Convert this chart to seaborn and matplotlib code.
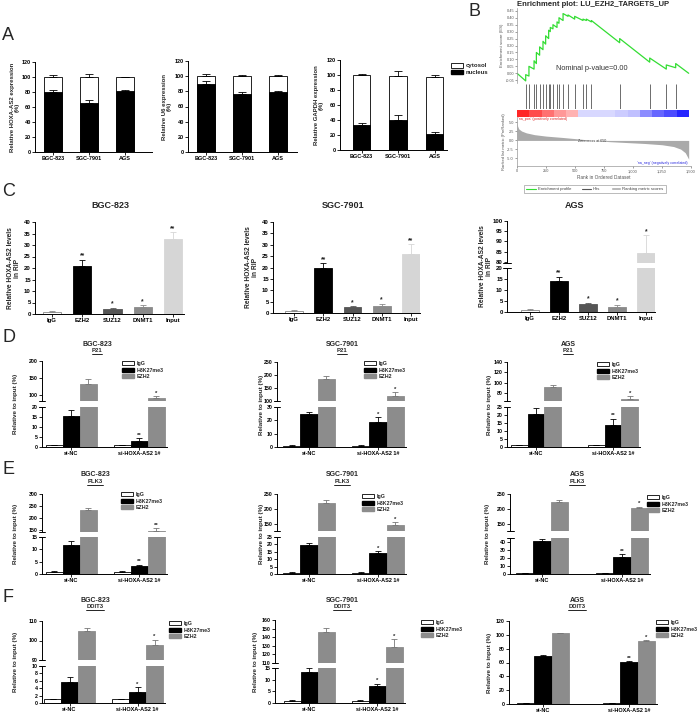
import numpy as np
import pandas as pd
import matplotlib
matplotlib.use("Agg")
import matplotlib.pyplot as plt
import seaborn as sns
from matplotlib.patches import Patch
from matplotlib.lines import Line2D

# ---------------- data ----------------
cell_lines = ["BGC-823", "SGC-7901", "AGS"]
hoxa_nucleus = [80, 65.5, 81.5]
hoxa_nucleus_err = [3, 3.5, 0.8]
hoxa_total = [100, 100, 100]
hoxa_total_err = [3, 3.5, 0.6]
u6_nucleus = [90, 76, 78.5]
u6_nucleus_err = [3, 2.5, 2]
u6_total = [100, 100, 100]
u6_total_err = [3, 2, 2]
gapdh_nucleus = [34, 40, 22]
gapdh_nucleus_err = [2, 7, 2.5]
gapdh_total = [99.5, 98.5, 97.5]
gapdh_total_err = [1.5, 7, 2]

es_rank = [0, 75, 75, 103, 103, 147, 147, 167, 167, 195, 195, 224, 224, 247, 247,
           273, 273, 287, 287, 310, 310, 345, 345, 362, 362, 397, 397, 440, 440,
           497, 497, 569, 569, 598, 598, 641, 641, 885, 885, 1144, 1144, 1287, 1287,
           1368, 1368, 1480]
es_score = [0.0, -0.055, -0.01, -0.02, 0.05, 0.03, 0.09, 0.07, 0.15, 0.13, 0.19,
            0.17, 0.23, 0.21, 0.27, 0.25, 0.31, 0.30, 0.33, 0.32, 0.35, 0.33, 0.37,
            0.36, 0.40, 0.38, 0.43, 0.41, 0.42, 0.39, 0.41, 0.38, 0.39, 0.38, 0.39,
            0.37, 0.38, 0.22, 0.25, 0.08, 0.11, 0.03, 0.06, 0.04, 0.07, 0.0]
hit_ranks = [75, 103, 147, 167, 195, 224, 247, 273, 287, 310, 345, 362, 397, 440,
             497, 569, 598, 641, 885, 1144, 1287, 1368]
metric_rank = [0, 5, 15, 40, 80, 150, 250, 400, 550, 650, 800, 950, 1100, 1250,
               1350, 1410, 1450, 1480]
metric_value = [5.3, 4.0, 3.2, 2.6, 2.1, 1.6, 1.2, 0.8, 0.35, 0.0, -0.35, -0.6,
                -0.85, -1.2, -1.7, -2.4, -3.4, -5.2]
rank_bar_levels = [0.85, 0.7, 0.55, 0.4, 0.3, -0.15, -0.15, -0.15, -0.2, -0.25,
                   -0.45, -0.6, -0.7, -0.85]
gsea_ticks = [0, 250, 500, 750, 1000, 1250, 1500]
gsea_tick_labels = ["0", "250", "500", "750", "1,000", "1,250", "1,500"]
es_ticks = [-0.05, 0.0, 0.05, 0.10, 0.15, 0.20, 0.25, 0.30, 0.35, 0.40, 0.45]
metric_ticks = [-5.0, -2.5, 0.0, 2.5, 5.0]

rip_targets = ["IgG", "EZH2", "SUZ12", "DNMT1", "Input"]
rip_bgc = [1, 21, 2.2, 3.0, 32.5]
rip_bgc_err = [0.2, 2.5, 0.6, 0.7, 3.0]
rip_bgc_sig = ["", "**", "*", "*", "**"]
rip_sgc = [1, 20, 2.5, 3.2, 26]
rip_sgc_err = [0.2, 1.8, 0.5, 0.9, 4.2]
rip_sgc_sig = ["", "**", "*", "*", "**"]
rip_ags = [1, 14, 3.5, 2.5, 84.5]
rip_ags_err = [0.2, 2.0, 0.6, 0.7, 8.5]
rip_ags_sig = ["", "**", "*", "*", "*"]

chip_groups = ["si-NC", "si-HOXA-AS2 1#"]
chip_antibodies = ["IgG", "H3K27me3", "EZH2"]
# order: si-NC (IgG, H3K27me3, EZH2), si-HOXA-AS2 1# (IgG, H3K27me3, EZH2)
p21_bgc = [1, 15.5, 133, 1, 3.2, 90]
p21_bgc_err = [0.2, 3, 13, 0.2, 1.3, 6]
p21_bgc_sig = ["", "", "", "", "**", "*"]
p21_sgc = [1, 24.5, 184, 1, 19, 120]
p21_sgc_err = [0.2, 2, 11, 0.2, 3.5, 14]
p21_sgc_sig = ["", "", "", "", "*", "*"]
p21_ags = [1, 20.6, 92, 1, 13.8, 69]
p21_ags_err = [0.2, 3.8, 3, 0.2, 4, 5.5]
p21_ags_sig = ["", "", "", "", "**", "*"]
plk3_bgc = [1, 11.8, 231, 1, 3.2, 146]
plk3_bgc_err = [0.1, 1.5, 10, 0.1, 0.6, 12]
plk3_bgc_sig = ["", "", "", "", "**", "**"]
plk3_sgc = [1, 19.4, 221, 1, 14.4, 147]
plk3_sgc_err = [0.1, 1.6, 9, 0.1, 1.3, 9]
plk3_sgc_sig = ["", "", "", "", "*", "*"]
plk3_ags = [1, 41, 222, 1, 21.7, 202]
plk3_ags_err = [0.2, 3, 8, 0.2, 2.9, 6]
plk3_ags_sig = ["", "", "", "", "**", "*"]
ddit3_bgc = [1, 5.6, 104.8, 1, 3.1, 97.5]
ddit3_bgc_err = [0.1, 1.4, 1.5, 0.1, 1.1, 3]
ddit3_bgc_sig = ["", "", "", "", "*", "*"]
ddit3_sgc = [1, 13.2, 146.5, 1, 7.5, 129]
ddit3_sgc_err = [0.1, 1.7, 4.5, 0.1, 0.8, 9]
ddit3_sgc_sig = ["", "", "", "", "*", "*"]
ddit3_ags = [1, 70, 102, 1, 60.5, 91]
ddit3_ags_err = [0.3, 1, 1, 0.3, 1, 1.5]
ddit3_ags_sig = ["", "", "", "", "**", "*"]

# ---------------- style ----------------
sns.set_theme(style="ticks")
plt.rcParams["font.family"] = ["Liberation Sans", "DejaVu Sans"]
plt.rcParams["font.weight"] = "bold"
plt.rcParams["axes.linewidth"] = 0.7
plt.rcParams["xtick.major.width"] = 0.6
plt.rcParams["ytick.major.width"] = 0.6

W, H = 700, 714
fig = plt.figure(figsize=(W / 100, H / 100), dpi=100)


def add_ax(x0, y0, x1, y1):
    return fig.add_axes([x0 / W, 1 - y1 / H, (x1 - x0) / W, (y1 - y0) / H])


def fy(y):
    return 1 - y / H


def style(ax, show_x=True, tick_fs=3.8):
    sns.despine(ax=ax, top=True, right=True, bottom=not show_x)
    ax.tick_params(axis="both", labelsize=tick_fs, length=2, width=0.6, pad=1,
                   colors="black")
    if not show_x:
        ax.set_xticks([])
    ax.set_xlabel("")
    ax.set_ylabel("")
    for sp in ax.spines.values():
        sp.set_linewidth(0.7)
        sp.set_color("black")


def err_bar(ax, x, v, e, color, cap=2.2):
    if e <= 0:
        return
    ax.errorbar([x], [v], yerr=[[0], [e]], fmt="none", ecolor=color,
                elinewidth=0.6, capsize=cap, capthick=0.6)


def break_mark(ax, y):
    ax.plot([-0.025, 0.025], [y, y], transform=ax.transAxes, color="black",
            lw=0.7, clip_on=False)


underlined = []

# ---------------- panel letters ----------------
for letter, (lx, ly) in {"A": (2, 35), "B": (468, 11), "C": (2, 191),
                         "D": (2, 338), "E": (2, 469), "F": (2, 598)}.items():
    fig.text(lx / W, fy(ly), letter, fontsize=13, fontweight="normal",
             ha="left", va="center")

# ---------------- panel A ----------------
def frac_chart(x0, x1, ytop, ybot, c0, s, nucleus, nucleus_err, total, total_err,
               ylabel, ylab_x):
    ax = add_ax(x0, ytop, x1, ybot)
    df = pd.DataFrame({"cell": cell_lines, "total": total, "nucleus": nucleus})
    sns.barplot(data=df, x="cell", y="total", color="white", edgecolor="black",
                linewidth=0.6, width=0.48, saturation=1, errorbar=None, ax=ax)
    sns.barplot(data=df, x="cell", y="nucleus", color="black", edgecolor="black",
                linewidth=0.6, width=0.48, saturation=1, errorbar=None, ax=ax)
    for cont, vals, errs in zip(ax.containers, [total, nucleus], [total_err, nucleus_err]):
        for b, v, e in zip(cont, vals, errs):
            err_bar(ax, b.get_x() + b.get_width() / 2, v, e, "black", cap=3)
    ax.set_xlim((x0 - c0) / s, (x1 - c0) / s)
    ax.set_ylim(0, 120)
    ax.set_yticks(range(0, 121, 20))
    style(ax, tick_fs=4)
    fig.text(ylab_x / W, fy((ytop + ybot) / 2), ylabel, rotation=90, ha="center",
             va="center", fontsize=4.3, linespacing=1.1)


frac_chart(35, 152, 62, 152, 53, 36, hoxa_nucleus, hoxa_nucleus_err, hoxa_total,
           hoxa_total_err, "Relative HOXA-AS2 expression\n(%)", 15)
frac_chart(188, 297, 61, 152, 206, 36, u6_nucleus, u6_nucleus_err, u6_total,
           u6_total_err, "Relative U6 expression\n(%)", 167)
frac_chart(340, 447, 60, 150, 361.5, 36.5, gapdh_nucleus, gapdh_nucleus_err,
           gapdh_total, gapdh_total_err, "Relative GAPDH expression\n(%)", 319)
fig.legend(handles=[Patch(facecolor="white", edgecolor="black", linewidth=0.6),
                    Patch(facecolor="black", edgecolor="black")],
           labels=["cytosol", "nucleus"], loc="upper left",
           bbox_to_anchor=(451 / W, fy(63)), frameon=False, fontsize=4.3,
           handlelength=2.0, handleheight=0.8, labelspacing=0.25,
           handletextpad=0.5, borderpad=0, borderaxespad=0)

# ---------------- panel B (GSEA) ----------------
GX0, GX1 = 517, 691
fig.text(593 / W, fy(4.5), "Enrichment plot: LU_EZH2_TARGETS_UP", ha="center",
         va="center", fontsize=5.5, fontweight="bold")
ax_es = add_ax(GX0, 8, GX1, 83)
sns.lineplot(x=es_rank, y=es_score, color="#33dd33", linewidth=0.9, sort=False,
             estimator=None, ax=ax_es)
ax_es.set_xlim(0, 1500)
ax_es.set_ylim(-0.07, 0.47)
ax_es.set_yticks(es_ticks)
ax_es.set_yticklabels([f"{t:.2f}" for t in es_ticks])
ax_es.set_xticks([])
for side in ["top", "right", "bottom"]:
    ax_es.spines[side].set_visible(False)
ax_es.spines["left"].set_color("#999999")
ax_es.spines["left"].set_linewidth(0.5)
ax_es.tick_params(axis="y", labelsize=2.8, length=1.2, width=0.4, pad=0.8,
                  colors="#555555")
for t in ax_es.get_yticklabels():
    t.set_fontweight("normal")
ax_es.set_ylabel("Enrichment score (ES)", fontsize=3.2, fontweight="normal",
                 color="#555555", labelpad=1)
ax_es.text(0.43, 0.19, "Nominal p-value=0.00", transform=ax_es.transAxes,
           ha="center", va="center", fontsize=5.3, fontweight="normal",
           color="#333333")

ax_hits = add_ax(GX0, 84, GX1, 109)
ax_hits.vlines(hit_ranks, 0, 1, color="#555555", linewidth=0.6)
ax_hits.set_xlim(0, 1500)
ax_hits.set_ylim(0, 1)
ax_hits.axis("off")

ax_cbar = add_ax(GX0, 110, GX0 + (GX1 - GX0) * 1480 / 1500, 117)
ax_cbar.imshow(np.array([rank_bar_levels]), cmap="bwr", vmin=-1, vmax=1,
               aspect="auto", extent=[0, 1480, 0, 1])
ax_cbar.axis("off")

ax_met = add_ax(GX0, 117, GX1, 166)
ax_met.fill_between(metric_rank, metric_value, 0, color="#aaaaaa", linewidth=0)
ax_met.set_xlim(0, 1500)
ax_met.set_ylim(-7.1, 6.5)
ax_met.set_yticks(metric_ticks)
ax_met.set_yticklabels([f"{t:.1f}" for t in metric_ticks])
ax_met.set_xticks(gsea_ticks)
ax_met.set_xticklabels(gsea_tick_labels)
for side in ["top", "right"]:
    ax_met.spines[side].set_visible(False)
for side in ["left", "bottom"]:
    ax_met.spines[side].set_color("#999999")
    ax_met.spines[side].set_linewidth(0.5)
ax_met.tick_params(axis="both", labelsize=2.8, length=1.2, width=0.4, pad=1,
                   colors="#555555")
for t in ax_met.get_yticklabels() + ax_met.get_xticklabels():
    t.set_fontweight("normal")
ax_met.set_ylabel("Ranked list metric (PreRanked)", fontsize=3.0,
                  fontweight="normal", color="#555555", labelpad=1)
ax_met.set_xlabel("Rank in Ordered Dataset", fontsize=3.4, fontweight="normal",
                  color="#555555", labelpad=1.5)
ax_met.text(8, 6.0, "'na_pos' (positively correlated)", fontsize=2.6,
            fontweight="normal", color="#dd2222", va="center", ha="left")
ax_met.text(650, -0.2, "Zero cross at 650", fontsize=2.6, fontweight="normal",
            color="#333333", va="center", ha="center")
ax_met.text(1470, -6.2, "'na_neg' (negatively correlated)", fontsize=2.6,
            fontweight="normal", color="#2222dd", va="center", ha="right")
leg_b = fig.legend(handles=[Line2D([], [], color="#33dd33", lw=0.8),
                            Line2D([], [], color="#555555", lw=0.8),
                            Patch(facecolor="#aaaaaa")],
                   labels=["Enrichment profile", "Hits", "Ranking metric scores"],
                   loc="center", bbox_to_anchor=(595 / W, fy(189)), ncol=3,
                   fontsize=3.1, frameon=True, fancybox=False, edgecolor="#888888",
                   handlelength=2.2, handleheight=0.6, columnspacing=2.5,
                   handletextpad=0.4, borderpad=0.5)
leg_b.get_frame().set_linewidth(0.5)
for t in leg_b.get_texts():
    t.set_fontweight("normal")
    t.set_color("#444444")

# ---------------- panel C ----------------
rip_palette = {"IgG": "white", "EZH2": "black", "SUZ12": "#555555",
               "DNMT1": "#8a8a8a", "Input": "#d6d6d6"}


def rip_chart(x0, c0, s, title, title_x, vals, errs, sigs, bot_px, bot_rng, bot_ticks,
              top_px=None, top_rng=None, top_ticks=None, x1=None, ylab_x=None):
    df = pd.DataFrame({"target": rip_targets, "value": vals})
    panels = []
    if top_px is not None:
        panels.append((add_ax(x0, top_px[0], x1, top_px[1]), top_rng, top_ticks, False))
    panels.append((add_ax(x0, bot_px[0], x1, bot_px[1]), bot_rng, bot_ticks, True))
    axmap = []
    for ax, rng, ticks, is_bot in panels:
        sns.barplot(data=df, x="target", y="value", hue="target", order=rip_targets,
                    hue_order=rip_targets, palette=rip_palette, legend=False,
                    width=0.6, saturation=1, errorbar=None, linewidth=0.6,
                    edgecolor="black", ax=ax)
        bars = sorted([b for c in ax.containers for b in c], key=lambda b: b.get_x())
        for k, (b, v, e) in enumerate(zip(bars, vals, errs)):
            fc = b.get_facecolor()
            if k == 0:
                b.set_edgecolor("#888888")
                col = "#888888"
            else:
                b.set_edgecolor(fc)
                col = fc
            err_bar(ax, b.get_x() + b.get_width() / 2, v, e, col, cap=2.5)
        ax.set_xlim((x0 - c0) / s, (x1 - c0) / s)
        ax.set_ylim(*rng)
        ax.set_yticks(ticks)
        style(ax, show_x=is_bot, tick_fs=4.3)
        if top_px is not None:
            break_mark(ax, 1 if is_bot else 0)
        axmap.append((ax, rng, [b.get_x() + b.get_width() / 2 for b in bars]))
    for k, sg in enumerate(sigs):
        if not sg:
            continue
        top = vals[k] + errs[k]
        target = axmap[-1]
        for ax, rng, xs in axmap:
            if rng[0] <= top <= rng[1]:
                target = (ax, rng, xs)
                break
        ax, rng, xs = target
        ax.annotate(sg, (xs[k], top), xytext=(0, 0.2), textcoords="offset points",
                    ha="center", va="bottom", fontsize=4.8)
    ytop = top_px[0] if top_px is not None else bot_px[0]
    fig.text(ylab_x / W, fy((ytop + bot_px[1]) / 2),
             "Relative HOXA-AS2 levels\nin RIP", rotation=90, ha="center",
             va="center", fontsize=4.8, linespacing=1.1)
    fig.text(title_x / W, fy(206), title, ha="center", va="center", fontsize=6.5)


rip_chart(35, 52, 30.25, "BGC-823", 110, rip_bgc, rip_bgc_err, rip_bgc_sig,
          (222, 314), (0, 40), range(0, 41, 5), x1=184, ylab_x=14)
rip_chart(273, 294, 29.25, "SGC-7901", 343, rip_sgc, rip_sgc_err, rip_sgc_sig,
          (222, 313), (0, 40), range(0, 41, 5), x1=420, ylab_x=252)
rip_chart(507, 530, 29, "AGS", 575, rip_ags, rip_ags_err, rip_ags_sig,
          (268, 312), (0, 20), range(0, 21, 5), top_px=(221, 263),
          top_rng=(79.5, 100), top_ticks=range(80, 101, 5), x1=655, ylab_x=486)

# ---------------- panels D/E/F ----------------
chip_palette = {"IgG": "white", "H3K27me3": "black", "EZH2": "#8c8c8c"}


def chip_chart(x0, c0, s, wfrac, vals, errs, sigs, bot_px, bot_rng, bot_ticks,
               top_px=None, top_rng=None, top_ticks=None, title="", gene="",
               title_x=0, title_y=0, ylab_x=0, legend_xy=(0, 0)):
    x1 = c0 + s + wfrac * s / 2 + 2
    df = pd.DataFrame({"group": np.repeat(chip_groups, 3),
                       "antibody": chip_antibodies * 2, "value": vals})
    panels = []
    if top_px is not None:
        panels.append((add_ax(x0, top_px[0], x1, top_px[1]), top_rng, top_ticks, False))
    panels.append((add_ax(x0, bot_px[0], x1, bot_px[1]), bot_rng, bot_ticks, True))
    axmap = []
    for ax, rng, ticks, is_bot in panels:
        sns.barplot(data=df, x="group", y="value", hue="antibody", order=chip_groups,
                    hue_order=chip_antibodies, palette=chip_palette, width=wfrac,
                    saturation=1, errorbar=None, legend=False, linewidth=0.6,
                    edgecolor="black", ax=ax)
        bars = sorted([b for c in ax.containers for b in c], key=lambda b: b.get_x())
        for k, (b, v, e) in enumerate(zip(bars, vals, errs)):
            fc = b.get_facecolor()
            if k % 3 != 0:
                b.set_edgecolor(fc)
            col = "#777777" if k % 3 == 2 else "black"
            err_bar(ax, b.get_x() + b.get_width() / 2, v, e, col, cap=2.4)
        ax.set_xlim((x0 - c0) / s, (x1 - c0) / s)
        ax.set_ylim(*rng)
        ax.set_yticks(ticks)
        style(ax, show_x=is_bot, tick_fs=3.8)
        if is_bot:
            for t in ax.get_xticklabels():
                t.set_fontsize(4.0)
        if top_px is not None:
            break_mark(ax, 1 if is_bot else 0)
        axmap.append((ax, rng, [b.get_x() + b.get_width() / 2 for b in bars]))
    for k, sg in enumerate(sigs):
        if not sg:
            continue
        top = vals[k] + errs[k]
        target = axmap[-1]
        for ax, rng, xs in axmap:
            if rng[0] <= top <= rng[1]:
                target = (ax, rng, xs)
                break
        ax, rng, xs = target
        ax.annotate(sg, (xs[k], top), xytext=(0, 0.2), textcoords="offset points",
                    ha="center", va="bottom", fontsize=4.3)
    ytop = top_px[0] if top_px is not None else bot_px[0]
    fig.text(ylab_x / W, fy((ytop + bot_px[1]) / 2), "Relative to input (%)",
             rotation=90, ha="center", va="center", fontsize=4.5)
    fig.text(title_x / W, fy(title_y), title, ha="center", va="center", fontsize=5)
    g = fig.text(title_x / W, fy(title_y + 6.5), gene, ha="center", va="center",
                 fontsize=4.3)
    underlined.append(g)
    fig.legend(handles=[Patch(facecolor="white", edgecolor="black", linewidth=0.6),
                        Patch(facecolor="black", edgecolor="black"),
                        Patch(facecolor="#8c8c8c", edgecolor="#8c8c8c")],
               labels=chip_antibodies, loc="upper left",
               bbox_to_anchor=(legend_xy[0] / W, fy(legend_xy[1])), frameon=False,
               fontsize=3.8, handlelength=2.2, handleheight=0.7, labelspacing=0.3,
               handletextpad=0.5, borderpad=0, borderaxespad=0)


# D: P21
chip_chart(42, 71, 68, 0.75, p21_bgc, p21_bgc_err, p21_bgc_sig, (407, 447), (0, 20),
           range(0, 21, 5), top_px=(361, 401), top_rng=(82, 200),
           top_ticks=[100, 150, 200], title="BGC-823", gene="P21", title_x=97,
           title_y=344, ylab_x=15, legend_xy=(122, 361))
chip_chart(277, 309, 69, 0.75, p21_sgc, p21_sgc_err, p21_sgc_sig, (407, 447), (0, 30),
           range(0, 31, 10), top_px=(362, 401), top_rng=(100, 250),
           top_ticks=[100, 150, 200, 250], title="SGC-7901", gene="P21",
           title_x=342, title_y=344, ylab_x=262, legend_xy=(364, 361))
chip_chart(507, 536, 77, 0.66, p21_ags, p21_ags_err, p21_ags_sig, (407, 447), (0, 25),
           range(0, 26, 5), top_px=(362, 401), top_rng=(64.5, 140),
           top_ticks=[80, 100, 120, 140], title="AGS", gene="P21", title_x=568,
           title_y=344, ylab_x=489, legend_xy=(597, 362))
# E: PLK3
chip_chart(42, 71, 68, 0.75, plk3_bgc, plk3_bgc_err, plk3_bgc_sig, (537, 574),
           (0, 15), range(0, 16, 5), top_px=(494, 532), top_rng=(140, 300),
           top_ticks=[150, 200, 250, 300], title="BGC-823", gene="PLK3", title_x=95,
           title_y=475, ylab_x=15, legend_xy=(121, 492))
chip_chart(277, 309, 69, 0.75, plk3_sgc, plk3_sgc_err, plk3_sgc_sig, (537, 574),
           (0, 25), range(0, 26, 5), top_px=(494, 531), top_rng=(127, 250),
           top_ticks=[150, 200, 250], title="SGC-7901", gene="PLK3", title_x=342,
           title_y=475, ylab_x=262, legend_xy=(362, 494))
chip_chart(510, 542, 80, 0.65, plk3_ags, plk3_ags_err, plk3_ags_sig, (538, 574),
           (0, 45), range(0, 41, 10), top_px=(494, 531), top_rng=(127, 250),
           top_ticks=[150, 200, 250], title="AGS", gene="PLK3", title_x=577,
           title_y=475, ylab_x=487, legend_xy=(647, 495))
# F: DDIT3
chip_chart(42, 69.5, 68, 0.75, ddit3_bgc, ddit3_bgc_err, ddit3_bgc_sig, (666, 703),
           (0, 10), range(0, 11, 2), top_px=(621, 660), top_rng=(90, 110),
           top_ticks=[90, 100, 110], title="BGC-823", gene="DDIT3", title_x=95,
           title_y=600, ylab_x=15, legend_xy=(169, 621))
chip_chart(275, 309, 68, 0.75, ddit3_sgc, ddit3_sgc_err, ddit3_sgc_sig, (668, 703),
           (0, 15), range(0, 16, 5), top_px=(620, 663), top_rng=(110, 160),
           top_ticks=range(110, 161, 10), title="SGC-7901", gene="DDIT3",
           title_x=342, title_y=600, ylab_x=256, legend_xy=(421, 620))
chip_chart(509, 543, 86, 0.6, ddit3_ags, ddit3_ags_err, ddit3_ags_sig, (621, 704),
           (0, 120), range(0, 121, 20), title="AGS", gene="DDIT3", title_x=577,
           title_y=600, ylab_x=489, legend_xy=(656, 620))

# underline gene names
fig.canvas.draw()
renderer = fig.canvas.get_renderer()
for t in underlined:
    bb = t.get_window_extent(renderer)
    yline = (bb.y0 - 0.5) / (H)
    fig.add_artist(Line2D([bb.x0 / W, bb.x1 / W], [yline, yline],
                          transform=fig.transFigure, color="black", lw=0.6))

fig.savefig("out.png", dpi=100)
